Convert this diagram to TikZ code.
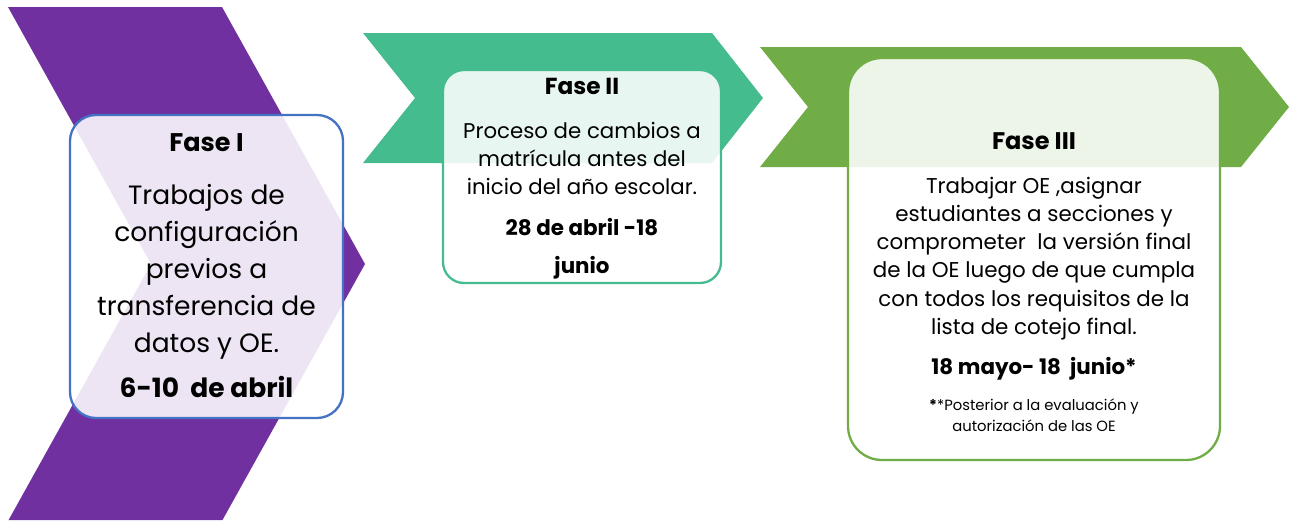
\documentclass[tikz,border=0pt]{standalone}
\usepackage{fontspec}
\setmainfont{Poppins}
\definecolor{cpurple}{HTML}{7030A0}
\definecolor{cteal}{HTML}{45BC8E}
\definecolor{cgreen}{HTML}{70AD47}
\definecolor{cblue}{HTML}{4472C4}
\begin{document}
\begin{tikzpicture}[x=1pt,y=-1pt,
  card/.style={draw, line width=2.3pt, fill=white, fill opacity=0.88, draw opacity=1, inner sep=0pt, outer sep=0pt},
  txt/.style={align=center, inner sep=0pt, outer sep=0pt, text=black},
]
\useasboundingbox (0,0) rectangle (1295,520);
% chevrons
\fill[cpurple] (8,7) -- (222,7) -- (365,264) -- (222.5,520) -- (8.6,520) -- (151,264) -- cycle;
\fill[cteal] (363,33) -- (712,33) -- (763,98) -- (712,163) -- (363,163) -- (415,98) -- cycle;
\fill[cgreen] (760,47) -- (1241,47) -- (1289,107) -- (1241,167) -- (760,167) -- (808,107) -- cycle;
% cards
\node[card, draw=cblue, rounded corners=26pt, minimum width=273pt, minimum height=303pt] (c1) at (206.5,266.5) {};
\node[card, draw=cteal, rounded corners=21pt, minimum width=278pt, minimum height=213pt] (c2) at (582,176.5) {};
\node[card, draw=cgreen, rounded corners=34pt, minimum width=372pt, minimum height=402pt] (c3) at (1034,259) {};
% Fase I text
\node[txt, font=\fontsize{25.5}{30}\selectfont\bfseries] (t1) at (206.5,143) {Fase I};
\node[txt, font=\fontsize{26.5}{37}\selectfont] (b1) at (206.5,272) {Trabajos de\\configuración\\previos a\\transferencia de\\datos y OE.};
\node[txt, font=\fontsize{26.5}{30}\selectfont\bfseries] (d1) at (206.5,387) {6-10\ \ de abril};
% Fase II text
\node[txt, font=\fontsize{23.2}{27}\selectfont\bfseries] (t2) at (582,86) {Fase II};
\node[txt, font=\fontsize{21.3}{28}\selectfont] (b2) at (582,158) {Proceso de cambios a\\matrícula antes del\\inicio del año escolar.};
\node[txt, font=\fontsize{21.4}{25}\selectfont\bfseries] (d2) at (582,227) {28 de abril -18};
\node[txt, font=\fontsize{21.4}{25}\selectfont\bfseries] (d2b) at (582,268) {junio};
% Fase III text
\node[txt, font=\fontsize{24}{28}\selectfont\bfseries] (t3) at (1034,141) {Fase III};
\node[txt, font=\fontsize{21.4}{28.2}\selectfont] (b3) at (1034,258.5) {Trabajar OE ,asignar\\estudiantes a secciones y\\comprometer\ \ la versión final\\de la OE luego de que cumpla\\con todos los requisitos de la\\lista de cotejo final.};
\node[txt, font=\fontsize{21.4}{25}\selectfont\bfseries] (d3) at (1034,369) {18 mayo- 18\ \ junio*};
\node[txt, font=\fontsize{14.8}{21}\selectfont] (n3) at (1034,415.5) {{\bfseries*}*Posterior a la evaluación y\\autorización de las OE};
\end{tikzpicture}
\end{document}
